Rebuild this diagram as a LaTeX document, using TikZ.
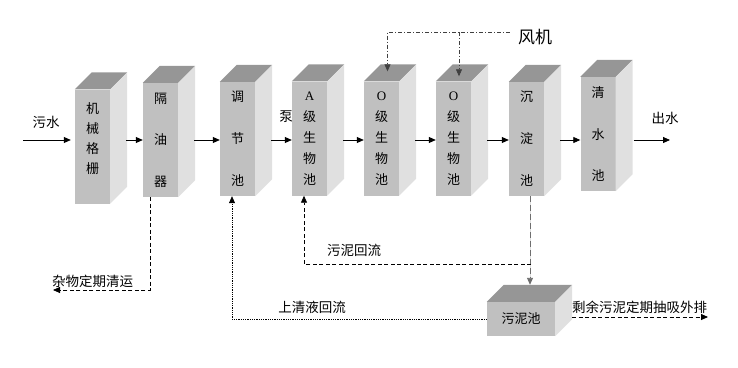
\documentclass[tikz,border=0pt]{standalone}
\usepackage{fontspec}
\setmainfont{Noto Sans CJK SC}
\newfontfamily\latinserif{Liberation Serif}
\usetikzlibrary{arrows.meta,positioning,calc}
\definecolor{frontgrey}{HTML}{C0C0C0}
\definecolor{topgrey}{HTML}{969696}
\definecolor{sidegrey}{HTML}{E0E0E0}
\definecolor{linegrey}{HTML}{6E6E6E}
\tikzset{
  tank/.style={fill=frontgrey, minimum width=35pt, minimum height=114pt,
               inner sep=0pt, align=center, font=\fontsize{13}{#1}\selectfont},
  tank/.default=21,
  lbl/.style={font=\fontsize{13.5}{15}\selectfont, inner sep=0pt},
  flow/.style={-{Triangle[length=7pt,width=6pt]}, line width=0.8pt},
  dashflow/.style={-{Triangle[length=7pt,width=6pt]}, line width=0.8pt,
                   dash pattern=on 4pt off 2.5pt},
  sludgeflow/.style={-{Triangle[length=7pt,width=6pt]}, line width=0.9pt,
                     draw=linegrey, fill=black, dash pattern=on 6pt off 3pt},
  dotflow/.style={-{Triangle[length=7pt,width=6pt]}, line width=0.6pt,
                  dash pattern=on 0.9pt off 0.9pt},
  airflow/.style={-{Triangle[length=7pt,width=6pt]}, line width=0.7pt,
                  draw=black!75, dash pattern=on 4pt off 2pt on 1pt off 2pt},
}
% top and right faces of a tank
\newcommand{\tankfaces}[1]{%
  \fill[topgrey] (#1.north west) -- ++(17,-17) -- ([shift={(17,-17)}]#1.north east)
     -- (#1.north east) -- cycle;
  \fill[sidegrey] (#1.north east) -- ++(17,-17) -- ([shift={(17,-17)}]#1.south east)
     -- (#1.south east) -- cycle;}

\begin{document}
\begin{tikzpicture}[x=1pt, y=-1pt]
\useasboundingbox (0,0) rectangle (738,367);
\coordinate (lvl) at (0,140);

% ---------------- labels of the main line --------------------------------
\node[lbl] (pump) at (286,117) {泵};
\node[lbl] (inlab) at (46,122) {污水};
\node[lbl] (outlab) at (665,118) {出水};
\node[font=\fontsize{17}{19}\selectfont, inner sep=0pt] (fan) at (535,37) {风机};

% ---------------- the tanks ----------------------------------------------
\node[tank=20] (grid) at (92.5,146.5) {机\\械\\格\\栅\\[-3pt]\mbox{}};
\node[tank=41.5] (sep) at (160.5,140) {隔\\油\\器};
\node[tank=42] (reg) at (237.5,139) {调\\节\\池};
\node[tank] (an) at (309.5,138.5) {{\latinserif A}\\级\\生\\物\\池};
\node[tank] (ob1) at (381.5,138.5) {{\latinserif O}\\级\\生\\物\\池};
\node[tank] (ob2) at (453.5,138.5) {{\latinserif O}\\级\\生\\物\\池};
\node[tank=42] (settle) at (526.5,139) {沉\\淀\\池};
\node[tank=41.5] (clear) at (598,134) {清\\水\\池};
\node[tank=15, minimum width=68pt, minimum height=34pt] (sludge) at (521,319) {污泥池};
\foreach \t in {grid,sep,reg,an,ob1,ob2,settle,clear,sludge}{\tankfaces{\t}}

% ---------------- main flow ----------------------------------------------
\coordinate (inlet) at (23,140);
\coordinate (outlet) at (670,140);
\draw[flow, shorten >=4pt] (inlet) -- (grid.west |- lvl);
\foreach \a/\b in {grid/sep,sep/reg,reg/an,an/ob1,ob1/ob2,ob2/settle,settle/clear}
  \draw[flow] ([xshift=16pt]\a.east |- lvl) -- (\b.west |- lvl);
\draw[flow] ([xshift=18pt]clear.east |- lvl) -- (outlet);

% ---------------- aeration -----------------------------------------------
\coordinate (airline) at ([xshift=-8pt,yshift=5pt]fan.west);
\coordinate (air1) at ($(ob1.north)+(6,-10)$);
\coordinate (air2) at ($(ob2.north)+(5.5,-5)$);
\draw[airflow] (airline) -| (air1);
\draw[airflow] (air2 |- airline) -- (air2);

% ---------------- sludge and returns -------------------------------------
\coordinate (trash) at (53,290);
\draw[dashflow] ([xshift=-10.5pt]sep.south) |- (trash);
\node[lbl, anchor=south west] (trashlab) at (52,288) {杂物定期清运};

\coordinate (sludgein) at ($(sludge.north)+(9,-17)$);
\draw[sludgeflow] ([xshift=3.5pt]settle.south) -- (sludgein);
\coordinate (ret) at ([xshift=1pt]sludgein |- 0,264);
\draw[dashflow] (ret) -| ([xshift=-5.5pt]an.south);
\node[lbl] (retlab) at (354,250) {污泥回流};

\draw[dotflow] (sludge.west) -| ([xshift=-5.5pt]reg.south);
\node[lbl] (uplab) at (312,307) {上清液回流};

\coordinate (waste) at (708,317);
\draw[dashflow] ([xshift=17pt,yshift=2pt]sludge.east) -- (waste);
\node[lbl, anchor=south west] (wastelab) at (572,314) {剩余污泥定期抽吸外排};
\end{tikzpicture}
\end{document}
